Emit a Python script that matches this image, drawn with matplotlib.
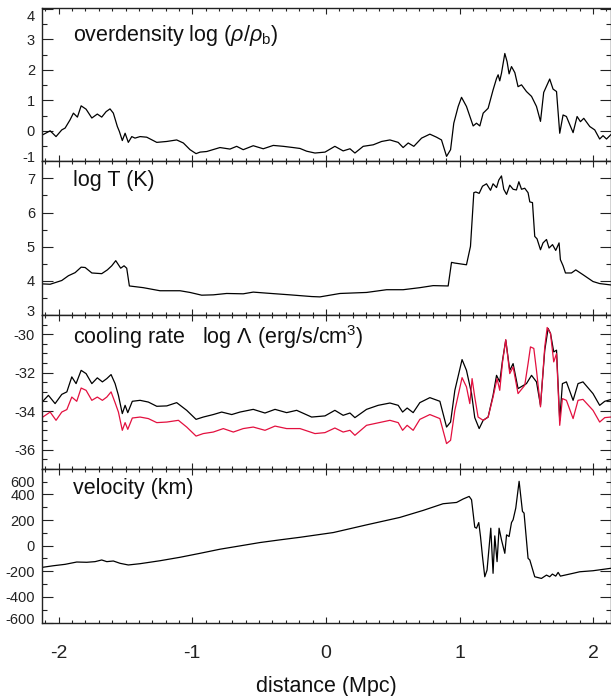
import matplotlib
matplotlib.use('Agg')
import matplotlib.pyplot as plt
from matplotlib.ticker import MultipleLocator
from matplotlib.transforms import ScaledTranslation

plt.rcParams['font.family'] = ['Liberation Sans', 'DejaVu Sans']
plt.rcParams['mathtext.fontset'] = 'custom'
plt.rcParams['mathtext.rm'] = 'Liberation Sans'
plt.rcParams['mathtext.it'] = 'Liberation Sans:italic'
plt.rcParams['axes.unicode_minus'] = False

# overdensity log(rho/rho_b)
dens_x = [-2.119, -2.064, -2.020, -1.977, -1.952, -1.915, -1.890, -1.860, -1.832, -1.795,
          -1.752, -1.711, -1.678, -1.645, -1.616, -1.591, -1.561, -1.546, -1.524, -1.503,
          -1.479, -1.453, -1.429, -1.391, -1.341, -1.266, -1.191, -1.117, -1.067, -1.017,
          -0.972, -0.942, -0.892, -0.793, -0.718, -0.668, -0.619, -0.544, -0.469, -0.394,
          -0.319, -0.245, -0.194, -0.144, -0.082, -0.007, 0.067, 0.129, 0.180, 0.217,
          0.279, 0.354, 0.417, 0.479, 0.541, 0.578, 0.616, 0.658, 0.716, 0.778,
          0.828, 0.865, 0.903, 0.933, 0.957, 0.990, 1.015, 1.052, 1.102, 1.127,
          1.152, 1.177, 1.214, 1.251, 1.277, 1.289, 1.301, 1.314, 1.339, 1.356,
          1.371, 1.389, 1.414, 1.438, 1.464, 1.501, 1.539, 1.576, 1.606, 1.630,
          1.675, 1.700, 1.726, 1.750, 1.775, 1.800, 1.850, 1.880, 1.905, 1.930,
          1.975, 2.012, 2.049, 2.074, 2.100, 2.132]
dens_y = [-0.13, 0.00, -0.19, 0.03, 0.09, 0.36, 0.58, 0.45, 0.82, 0.71,
          0.42, 0.55, 0.45, 0.63, 0.72, 0.58, 0.14, -0.02, -0.32, -0.08,
          -0.38, -0.19, -0.24, -0.19, -0.21, -0.38, -0.35, -0.30, -0.40, -0.62,
          -0.75, -0.70, -0.68, -0.55, -0.60, -0.51, -0.62, -0.49, -0.59, -0.48,
          -0.51, -0.55, -0.58, -0.67, -0.73, -0.70, -0.51, -0.66, -0.59, -0.73,
          -0.51, -0.46, -0.35, -0.30, -0.38, -0.55, -0.40, -0.51, -0.24, -0.11,
          -0.21, -0.30, -0.84, -0.62, 0.25, 0.80, 1.10, 0.80, 0.16, 0.25,
          0.16, 0.58, 0.74, 1.34, 1.72, 1.84, 1.64, 1.89, 2.54, 2.27,
          1.87, 2.11, 1.91, 1.45, 1.51, 1.29, 1.13, 0.80, 0.31, 1.26,
          1.70, 1.37, 1.29, -0.08, 0.52, 0.47, -0.06, 0.47, 0.30, 0.41,
          0.14, 0.03, -0.27, -0.16, -0.27, -0.13]

# log T (K)
temp_x = [-2.119, -2.064, -1.977, -1.927, -1.877, -1.832, -1.802, -1.752, -1.678, -1.636,
          -1.603, -1.573, -1.536, -1.511, -1.491, -1.471, -1.367, -1.242, -1.092, -1.017,
          -0.930, -0.843, -0.743, -0.619, -0.544, -0.444, -0.269, -0.107, -0.045, 0.105,
          0.304, 0.454, 0.578, 0.703, 0.803, 0.915, 0.940, 0.965, 1.052, 1.082,
          1.107, 1.122, 1.147, 1.172, 1.202, 1.232, 1.251, 1.277, 1.294, 1.314,
          1.331, 1.352, 1.376, 1.401, 1.426, 1.444, 1.464, 1.488, 1.513, 1.526,
          1.546, 1.563, 1.580, 1.606, 1.625, 1.651, 1.670, 1.696, 1.720, 1.745,
          1.755, 1.775, 1.793, 1.838, 1.870, 1.924, 1.999, 2.049, 2.132]
temp_y = [3.91, 3.90, 4.01, 4.15, 4.24, 4.40, 4.39, 4.23, 4.21, 4.32,
          4.44, 4.59, 4.37, 4.44, 4.37, 3.85, 3.80, 3.71, 3.71, 3.66,
          3.58, 3.59, 3.63, 3.62, 3.67, 3.64, 3.59, 3.54, 3.53, 3.63,
          3.66, 3.74, 3.74, 3.80, 3.86, 3.85, 4.54, 4.52, 4.47, 5.01,
          6.58, 6.60, 6.56, 6.77, 6.84, 6.65, 6.84, 6.73, 6.95, 7.07,
          6.68, 6.53, 6.80, 6.68, 6.66, 6.90, 6.68, 6.71, 6.58, 6.31,
          6.29, 5.30, 5.23, 4.91, 5.11, 5.21, 4.96, 5.06, 4.89, 5.11,
          4.62, 4.44, 4.23, 4.23, 4.32, 4.18, 3.98, 3.92, 3.88]

# cooling rate log Lambda, black curve
cool_x = [-2.119, -2.077, -2.027, -1.977, -1.939, -1.902, -1.870, -1.832, -1.795, -1.752,
          -1.711, -1.673, -1.640, -1.608, -1.578, -1.553, -1.524, -1.503, -1.483, -1.449,
          -1.391, -1.329, -1.266, -1.191, -1.117, -1.042, -0.972, -0.918, -0.843, -0.780,
          -0.705, -0.643, -0.544, -0.456, -0.381, -0.294, -0.219, -0.107, -0.007, 0.067,
          0.129, 0.180, 0.217, 0.304, 0.391, 0.479, 0.541, 0.574, 0.608, 0.653,
          0.703, 0.778, 0.853, 0.903, 0.933, 0.965, 1.019, 1.052, 1.090, 1.114,
          1.147, 1.177, 1.214, 1.251, 1.277, 1.301, 1.322, 1.346, 1.376, 1.401,
          1.438, 1.501, 1.539, 1.576, 1.606, 1.638, 1.663, 1.681, 1.705, 1.726,
          1.750, 1.770, 1.800, 1.850, 1.887, 1.924, 1.999, 2.049, 2.087, 2.132]
cool_y = [-33.49, -33.18, -33.61, -33.13, -33.00, -32.22, -32.57, -31.88, -32.05, -32.57,
          -32.27, -32.48, -32.31, -32.10, -32.57, -33.18, -34.13, -33.70, -34.08, -33.49,
          -33.44, -33.53, -33.75, -33.73, -33.56, -33.96, -34.43, -34.31, -34.18, -34.05,
          -34.18, -34.05, -33.91, -34.10, -33.91, -34.08, -33.96, -34.31, -34.25, -33.96,
          -34.22, -34.10, -34.34, -33.91, -33.70, -33.58, -33.70, -34.05, -33.84, -34.08,
          -33.56, -33.30, -33.49, -34.83, -34.57, -32.92, -31.32, -31.88, -33.09, -34.34,
          -34.91, -34.48, -34.31, -33.18, -32.14, -32.48, -31.35, -30.31, -31.88, -31.53,
          -32.83, -32.57, -32.14, -32.48, -33.70, -30.83, -29.70, -29.96, -30.92, -30.83,
          -34.48, -32.57, -32.48, -33.44, -32.57, -32.48, -33.09, -33.70, -33.49, -33.40]

# cooling rate, red curve
cool2_x = [-2.119, -2.064, -2.020, -1.977, -1.939, -1.902, -1.865, -1.832, -1.795, -1.752,
           -1.711, -1.673, -1.640, -1.608, -1.578, -1.553, -1.524, -1.503, -1.483, -1.449,
           -1.391, -1.329, -1.266, -1.191, -1.104, -1.042, -0.972, -0.918, -0.843, -0.768,
           -0.693, -0.619, -0.544, -0.456, -0.381, -0.294, -0.194, -0.082, -0.007, 0.067,
           0.129, 0.180, 0.217, 0.304, 0.479, 0.541, 0.574, 0.608, 0.653, 0.703,
           0.778, 0.853, 0.903, 0.933, 0.965, 1.019, 1.052, 1.077, 1.094, 1.114,
           1.139, 1.177, 1.214, 1.251, 1.281, 1.301, 1.322, 1.346, 1.376, 1.401,
           1.438, 1.488, 1.513, 1.531, 1.556, 1.576, 1.606, 1.638, 1.656, 1.681,
           1.705, 1.726, 1.750, 1.770, 1.800, 1.850, 1.887, 1.924, 1.999, 2.049,
           2.087, 2.132]
cool2_y = [-34.31, -34.05, -34.48, -34.05, -33.92, -33.27, -33.49, -32.80, -32.92, -33.44,
           -33.27, -33.44, -33.27, -33.00, -33.56, -34.05, -35.00, -34.60, -34.95, -34.36,
           -34.31, -34.39, -34.60, -34.57, -34.48, -34.83, -35.30, -35.17, -35.09, -34.91,
           -35.09, -34.91, -34.83, -35.00, -34.78, -34.91, -34.91, -35.17, -35.12, -34.88,
           -35.09, -35.00, -35.26, -34.74, -34.48, -34.60, -35.00, -34.74, -35.00, -34.43,
           -34.18, -34.39, -35.69, -35.52, -33.96, -32.26, -32.74, -33.61, -32.31, -33.27,
           -34.31, -34.48, -34.31, -33.27, -32.31, -32.92, -31.44, -30.28, -32.05, -31.70,
           -33.09, -32.66, -31.53, -30.66, -30.74, -31.88, -33.78, -30.66, -29.65, -29.96,
           -31.44, -31.01, -34.74, -33.35, -33.44, -34.39, -33.44, -33.39, -33.96, -34.57,
           -34.34, -34.31]

# velocity
vel_x = [-2.119, -2.040, -1.952, -1.865, -1.790, -1.728, -1.678, -1.640, -1.591, -1.541,
         -1.479, -1.391, -1.242, -1.092, -0.942, -0.793, -0.643, -0.494, -0.344, -0.194,
         0.055, 0.304, 0.553, 0.728, 0.877, 0.978, 1.027, 1.072, 1.090, 1.114,
         1.127, 1.144, 1.157, 1.172, 1.189, 1.206, 1.234, 1.251, 1.264, 1.281,
         1.296, 1.314, 1.339, 1.352, 1.371, 1.389, 1.401, 1.421, 1.446, 1.471,
         1.483, 1.513, 1.526, 1.563, 1.613, 1.651, 1.675, 1.695, 1.720, 1.738,
         1.755, 1.850, 1.900, 1.999, 2.132]
vel_y = [-169, -157, -146, -128, -130, -125, -112, -125, -120, -138,
         -151, -141, -118, -91, -60, -28, -2, 24, 45, 65,
         102, 162, 220, 275, 327, 337, 364, 384, 358, 144,
         136, 180, 71, -86, -243, -191, 136, -216, 76, -125,
         136, 45, -60, 84, 71, 180, 202, 293, 502, 267,
         254, -99, -112, -243, -256, -230, -243, -222, -238, -209,
         -238, -216, -204, -196, -177]

x_ticks = [-2, -1, 0, 1, 2]
panel_titles = [r'overdensity log ($\rho/\rho_{\rm b}$)', 'log T (K)',
                r'cooling rate   log $\Lambda$ (erg/s/cm$^3$)', 'velocity (km)']
title_y = [0.821, 0.878, 0.854, 0.874]

W, H = 611, 696
fig = plt.figure(figsize=(W / 100, H / 100), dpi=100)
left, right = 42 / W, 610.5 / W
top_px, panel_h = 7.5, 153.75

axes = []
for i in range(4):
    b = 1 - (top_px + (i + 1) * panel_h) / H
    ax = fig.add_axes([left, b, right - left, panel_h / H])
    axes.append(ax)

red = '#e3103f'
axes[0].plot(dens_x, dens_y, color='black', lw=0.9)
axes[1].plot(temp_x, temp_y, color='black', lw=0.9)
axes[2].plot(cool_x, cool_y, color='black', lw=0.9)
axes[2].plot(cool2_x, cool2_y, color=red, lw=0.9)
axes[3].plot(vel_x, vel_y, color='black', lw=0.9)

ylims = [(-1, 4.05), (3, 7.5), (-37, -29), (-600, 600)]
yticks = [[-1, 0, 1, 2, 3, 4], [3, 4, 5, 6, 7], [-36, -34, -32, -30],
          [-600, -400, -200, 0, 200, 400, 600]]
yminor = [0.5, 0.5, 0.5, 100]
# nudge the end labels inward like the original
nudges = [{0: 4.5, 5: -6.5}, {0: 4.0}, {}, {0: 4.0, 6: -13.0}]

for i, ax in enumerate(axes):
    ax.set_xlim(-2.125, 2.13)
    ax.set_ylim(*ylims[i])
    ax.set_xticks(x_ticks)
    ax.xaxis.set_minor_locator(MultipleLocator(0.1))
    ax.set_yticks(yticks[i])
    ax.yaxis.set_minor_locator(MultipleLocator(yminor[i]))
    ax.tick_params(axis='both', which='both', direction='in', top=True, right=True,
                   colors='#222222', width=0.8)
    ax.tick_params(axis='x', which='major', length=4)
    ax.tick_params(axis='x', which='minor', length=2)
    ax.tick_params(axis='y', which='major', length=8, labelsize=10.5, pad=5)
    ax.tick_params(axis='y', which='minor', length=3.6)
    for s in ax.spines.values():
        s.set_linewidth(1.0)
        s.set_color('#222222')
    if i < 3:
        ax.tick_params(axis='x', labelbottom=False)
    else:
        ax.tick_params(axis='x', labelsize=14, pad=16)
    for k, dy in nudges[i].items():
        lab = ax.yaxis.get_major_ticks()[k].label1
        lab.set_transform(lab.get_transform() + ScaledTranslation(0, dy / 100, fig.dpi_scale_trans))
    ax.text(0.0545, title_y[i], panel_titles[i], transform=ax.transAxes,
            fontsize=15.5, va='center', ha='left', color='#111111')

axes[3].set_xlabel('distance (Mpc)', fontsize=15.5, labelpad=10, color='#111111')

fig.savefig('out.png', dpi=100)
